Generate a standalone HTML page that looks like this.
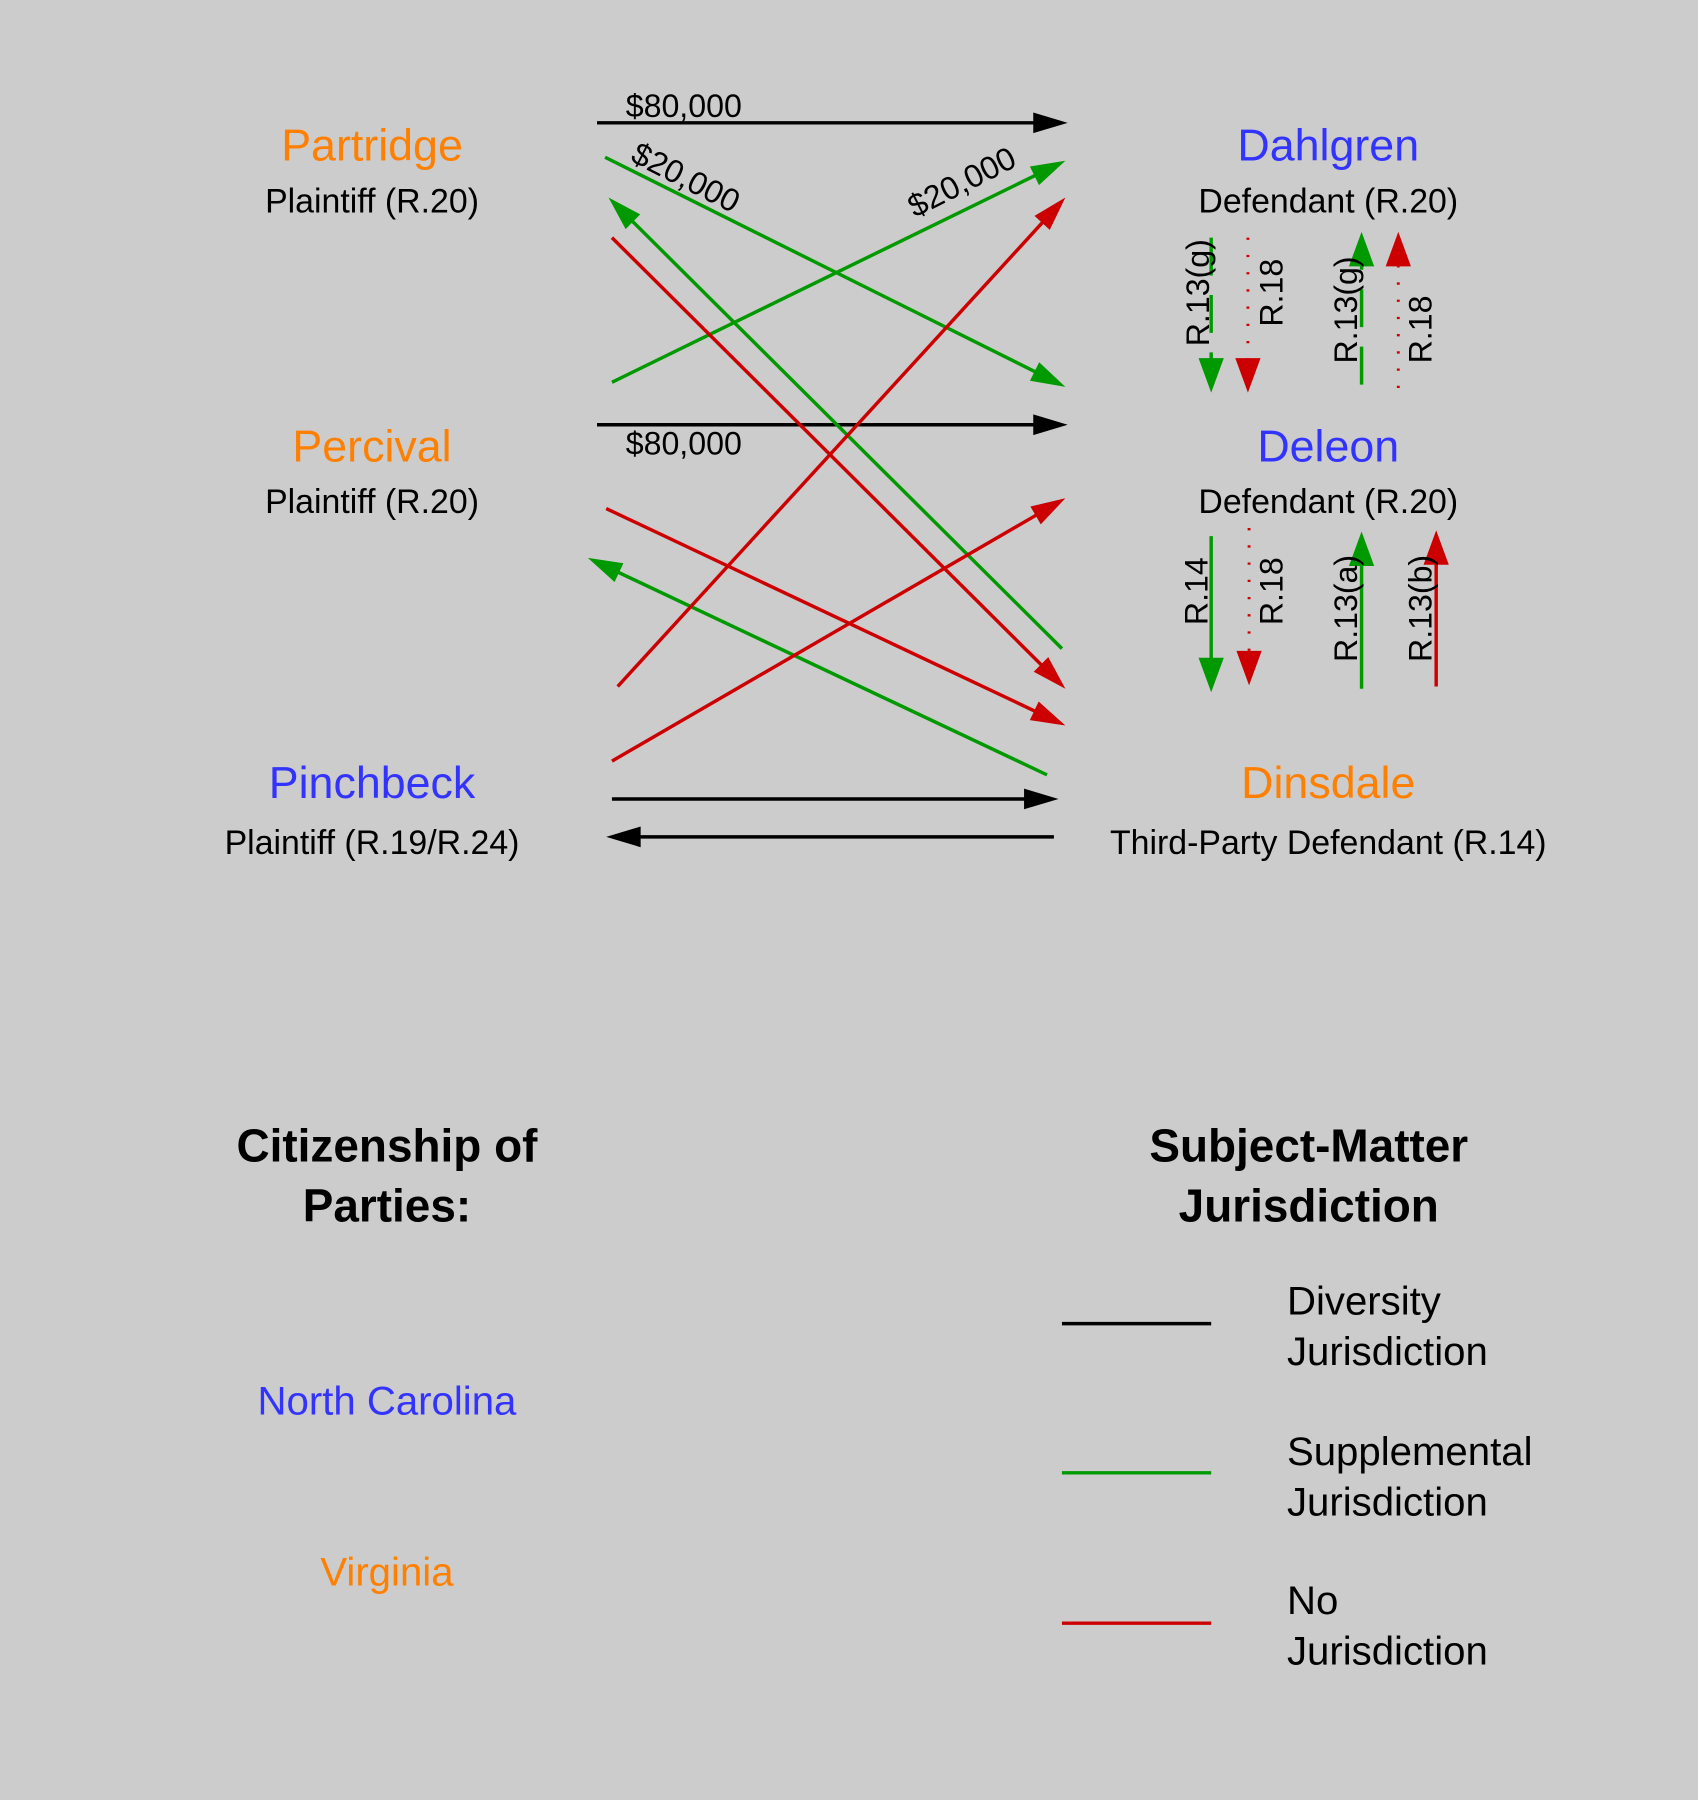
<!DOCTYPE html>
<html><head><meta charset="utf-8"><style>
html,body{margin:0;padding:0;background:#cccccc}
svg{display:block}
text{font-family:"Liberation Sans",sans-serif}
</style></head><body>
<svg id="chart" width="1698" height="1800" viewBox="0 0 1479 1568" xmlns="http://www.w3.org/2000/svg">
<rect width="1479" height="1568" fill="#cccccc"/>
<g id="parties"></g>
<g id="edges"></g>
<g id="rules"></g>
<g id="legend">
<text x="337" y="1012" font-size="40" font-weight="bold" text-anchor="middle">Citizenship of</text>
<text x="337" y="1064" font-size="40" font-weight="bold" text-anchor="middle">Parties:</text>
<text x="337" y="1232" font-size="35" fill="#3333ff" text-anchor="middle">North Carolina</text>
<text x="337" y="1381" font-size="35" fill="#ff8000" text-anchor="middle">Virginia</text>
<text x="1140" y="1012" font-size="40" font-weight="bold" text-anchor="middle">Subject-Matter</text>
<text x="1140" y="1064" font-size="40" font-weight="bold" text-anchor="middle">Jurisdiction</text>
<line x1="925" y1="1153" x2="1055" y2="1153" stroke="#000" stroke-width="3"/>
<text x="1121" y="1145" font-size="35">Diversity</text>
<text x="1121" y="1189" font-size="35">Jurisdiction</text>
<line x1="925" y1="1283" x2="1055" y2="1283" stroke="#009900" stroke-width="3"/>
<text x="1121" y="1276" font-size="35">Supplemental</text>
<text x="1121" y="1320" font-size="35">Jurisdiction</text>
<line x1="925" y1="1414" x2="1055" y2="1414" stroke="#cc0000" stroke-width="3"/>
<text x="1121" y="1406" font-size="35">No</text>
<text x="1121" y="1450" font-size="35">Jurisdiction</text>
</g>
</svg>
<script>
const partyNames=["Partridge","Percival","Pinchbeck","Dahlgren","Deleon","Dinsdale"];
const partyRoles=["Plaintiff (R.20)","Plaintiff (R.20)","Plaintiff (R.19/R.24)","Defendant (R.20)","Defendant (R.20)","Third-Party Defendant (R.14)"];
const partyStates=["VA","VA","NC","NC","NC","VA"];
const edgeTypes=["diversity","diversity","diversity","diversity","supplemental","supplemental","supplemental","supplemental","none","none","none","none"];
const edgeStart=[[520,107],[520,370],[533,696],[918,729],[527,137],[533,333],[925,565],[912,675],[533,207],[538,598],[528,443],[533,663]];
const edgeEnd=[[930,107],[930,370],[922,696],[528,729],[928,337],[928,140],[530,172],[512,486],[928,600],[928,172],[928,632],[928,434]];
const ruleLabels=["R.13(g)","R.18","R.13(g)","R.18","R.14","R.18","R.13(a)","R.13(b)"];
const ruleTypes=["supplemental","none","supplemental","none","supplemental","none","supplemental","none"];
const ruleStyle=["dashed","dotted","dashed","dotted","solid","dotted","solid","solid"];
const ruleFrom=[[1055,207],[1087,207],[1186,335],[1218,338],[1055,467],[1088,460],[1186,600],[1251,598]];
const ruleTo=[[1055,342],[1087,342],[1186,202],[1218,202],[1055,603],[1088,597],[1186,463],[1251,462]];
const NS="http://www.w3.org/2000/svg";
const color={diversity:"#000",supplemental:"#009900",none:"#cc0000"};
const stateColor={VA:"#ff8000",NC:"#3333ff"};
function el(t,a,p){const e=document.createElementNS(NS,t);for(const k in a)e.setAttribute(k,a[k]);p.appendChild(e);return e;}
const gp=document.getElementById("parties");
const px=[324,324,324,1157,1157,1157], py=[127,389,682,127,389,682], sy=[175,437,734,175,437,734];
partyNames.forEach((n,i)=>{
 const t=el("text",{x:px[i],y:py[i]+13,"font-size":39,"text-anchor":"middle",fill:stateColor[partyStates[i]]},gp);
 t.textContent=n;
 
 
 const r=el("text",{x:px[i],y:sy[i]+10,"font-size":29.5,"text-anchor":"middle",fill:"#000"},gp);
 r.textContent=partyRoles[i];
 
 
});
const ge=document.getElementById("edges");
edgeTypes.forEach((ty,i)=>{
 const [x1,y1]=edgeStart[i],[x2,y2]=edgeEnd[i];
 const dx=x2-x1,dy=y2-y1,L=Math.hypot(dx,dy),ux=dx/L,uy=dy/L;
 const l=el("line",{x1,y1,x2:x2-ux*26,y2:y2-uy*26,stroke:color[ty],"stroke-width":3},ge);
 
 
 const nx=-uy,ny=ux;
 const h=el("path",{d:`M${x2},${y2}L${x2-ux*30+nx*9},${y2-uy*30+ny*9}L${x2-ux*30-nx*9},${y2-uy*30-ny*9}Z`,fill:color[ty]},ge);
 
 
});
[["$80,000",545,102,0],["$80,000",545,396,0],["$20,000",548,140,27],["$20,000",797,190,-27]].forEach((d,i)=>{
 const t=el("text",{x:d[1],y:d[2],"font-size":28,transform:`rotate(${d[3]} ${d[1]} ${d[2]})`},ge);
 t.textContent=d[0];
 
 
});
const gr=document.getElementById("rules");
const labelX=[1043,1107,1172,1237,1042,1107,1172,1237], labelY=[255,255,270,287,515,515,530,530];
ruleLabels.forEach((lab,i)=>{
 const [x1,y1]=ruleFrom[i],[x2,y2]=ruleTo[i];const dir=Math.sign(y2-y1);
 const st=ruleStyle[i];
 const a={x1,y1,x2,y2:y2-dir*26,stroke:color[ruleTypes[i]],"stroke-width":st==="dotted"?2.5:3};
 if(st==="dashed")a["stroke-dasharray"]="33,17";
 if(st==="dotted")a["stroke-dasharray"]="2,13";
 const l=el("line",a,gr);
 
 
 const h=el("path",{d:`M${x2},${y2}L${x2-11},${y2-dir*30}L${x2+11},${y2-dir*30}Z`,fill:color[ruleTypes[i]]},gr);
 
 
 const tx=labelX[i]+10, cy=labelY[i];
 const t=el("text",{x:tx,y:cy,"font-size":28,"text-anchor":"middle",transform:`rotate(-90 ${tx} ${cy})`},gr);
 t.textContent=lab;
 
 
});
</script>
</body></html>
